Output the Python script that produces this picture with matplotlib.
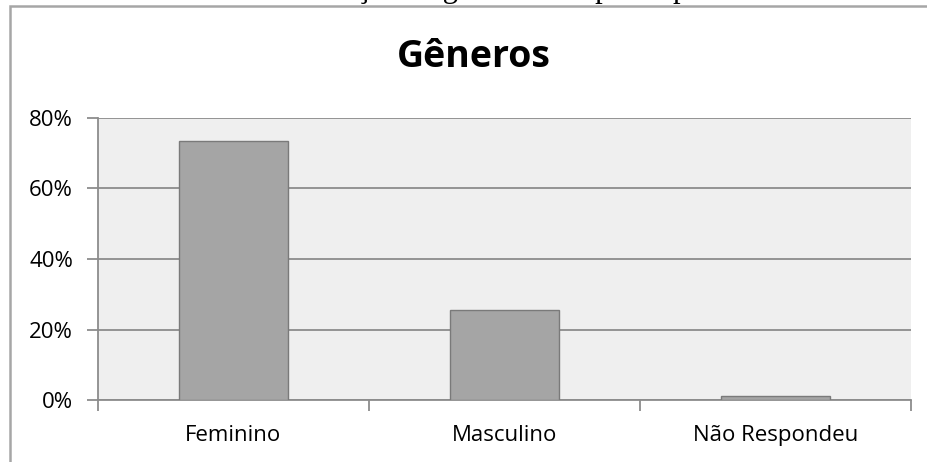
import matplotlib
matplotlib.use("Agg")
import matplotlib.pyplot as plt
from matplotlib.patches import Rectangle
from matplotlib.ticker import FuncFormatter

categories = ["Feminino", "Masculino", "Não Respondeu"]
values = [73.4, 25.5, 1.1]
yticks = [0, 20, 40, 60, 80]
title = "Gêneros"
caption = "Distribuição de gêneros dos participantes"

W, H = 928, 462
fig = plt.figure(figsize=(W / 100, H / 100), dpi=100)
fig.patch.set_facecolor("white")

# outer chart frame
fig.patches.append(Rectangle((10 / W, -0.05), 1.0, 1 - 5.5 / H + 0.05,
                             transform=fig.transFigure, fill=False,
                             edgecolor="#a6a6a6", linewidth=1.8, zorder=0))

# clipped caption from the surrounding document (only descenders visible)
fig.text(248 / W, 1 + 3 / H, caption, family="Liberation Serif", fontsize=22,
         ha="left", va="baseline", color="black")

ax = fig.add_axes([98 / W, 62 / H, (911 - 98) / W, (400 - 118) / H])
ax.set_facecolor("#efefef")

x = list(range(len(categories)))
ax.bar(x, values, width=0.4, color="#a5a5a5", edgecolor="#7a7a7a",
       linewidth=1.0, zorder=3)

ax.set_xlim(-0.5, len(categories) - 0.5)
ax.set_ylim(0, 80)
ax.set_yticks(yticks)
ax.yaxis.set_major_formatter(FuncFormatter(lambda v, p: f"{v:.0f}%"))
ax.grid(axis="y", color="#8c8c8c", linewidth=1.3, zorder=1)
ax.set_axisbelow(True)

ax.set_xticks(x)
ax.set_xticklabels(categories)
ax.set_xticks([i - 0.5 for i in range(len(categories) + 1)], minor=True)
ax.tick_params(axis="x", which="major", length=0, pad=18, labelsize=16)
ax.tick_params(axis="x", which="minor", length=8, color="#8c8c8c", width=1.3)
ax.tick_params(axis="y", length=8, color="#8c8c8c", width=1.3, pad=10, labelsize=16)
for lab in ax.get_xticklabels() + ax.get_yticklabels():
    lab.set_family("Open Sans")
    lab.set_color("black")

for s in ["top", "right"]:
    ax.spines[s].set_visible(False)
for s in ["left", "bottom"]:
    ax.spines[s].set_color("#8c8c8c")
    ax.spines[s].set_linewidth(1.3)

fig.text(474 / W, 1 - 57 / H, title, family="Open Sans", fontweight="bold",
         fontsize=27, ha="center", va="center", color="black")

fig.savefig("out.png", dpi=100)
